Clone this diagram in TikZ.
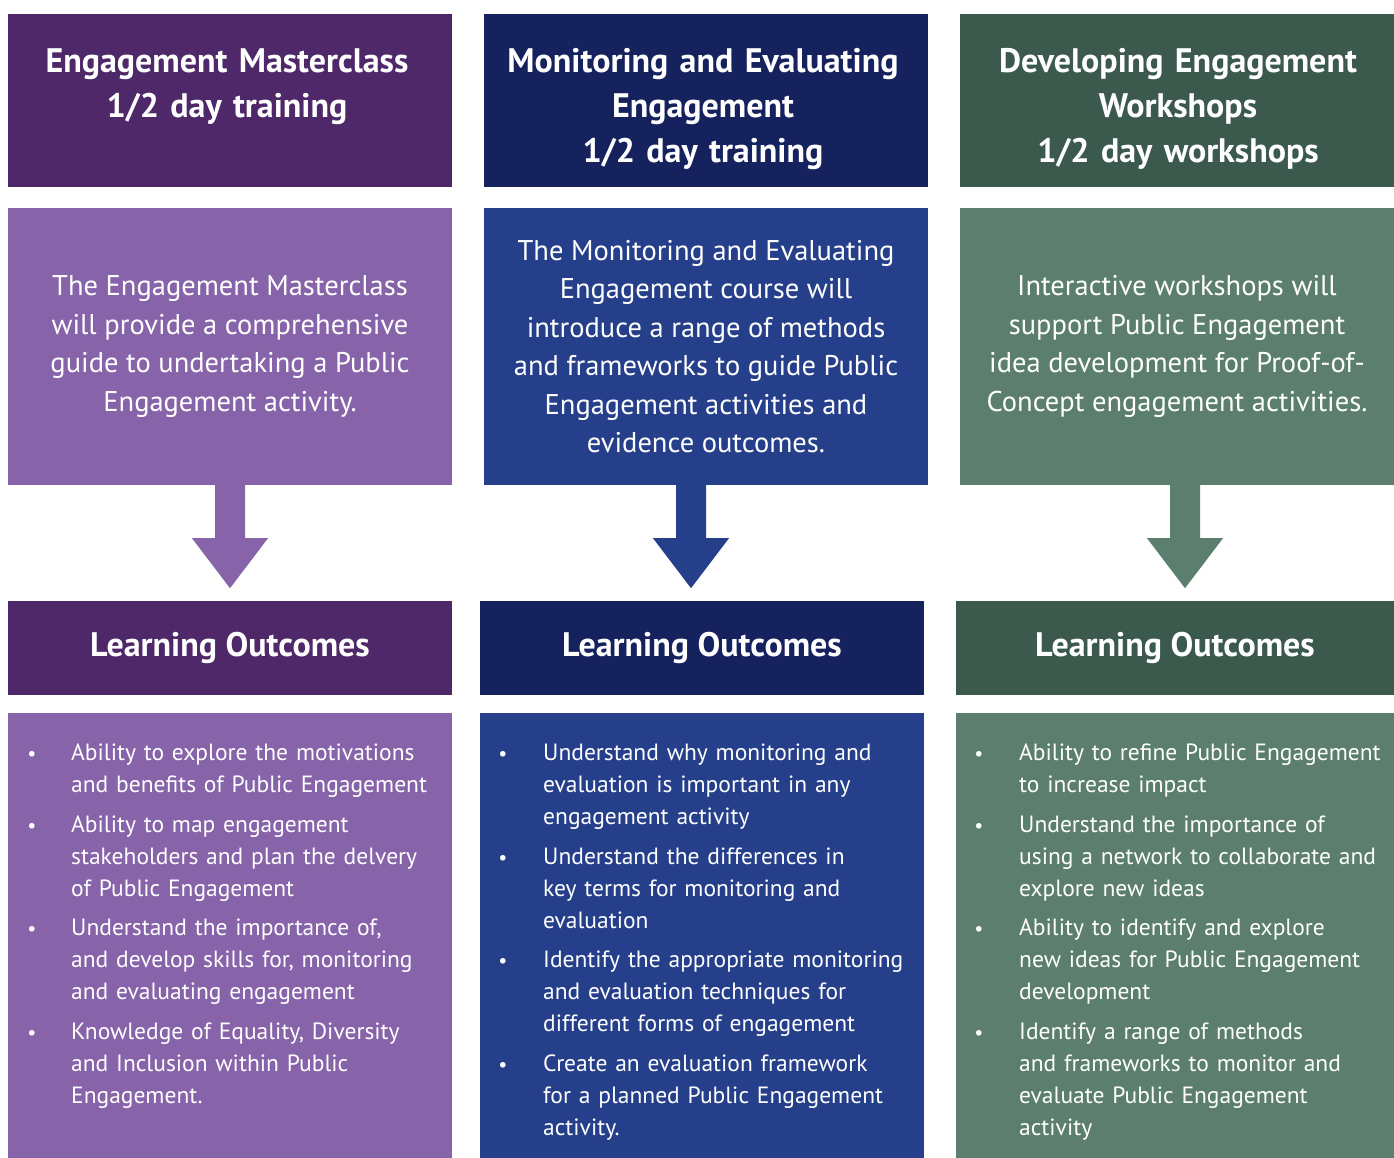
\documentclass[tikz,border=0pt]{standalone}
\usepackage{fontspec}
\setmainfont{PT Sans}

\definecolor{mcdark}{HTML}{4F2869}
\definecolor{mclight}{HTML}{8763A9}
\definecolor{medark}{HTML}{15225E}
\definecolor{melight}{HTML}{253F8A}
\definecolor{wsdark}{HTML}{3C594D}
\definecolor{wslight}{HTML}{5B7E6E}

\begin{document}
\begin{tikzpicture}[x=1pt,y=-1pt,
    box/.style={rectangle,inner sep=0pt,text=white,minimum width=444pt},
    title/.style={text=white,inner sep=0pt,text width=440pt,align=center,anchor=base,
                  font=\fontsize{34}{45}\selectfont\bfseries},
    desc/.style={box,minimum height=277pt,align=center,font=\fontsize{28.5}{38.5}\selectfont},
    outcome/.style={box,minimum height=94pt,font=\fontsize{34}{36}\selectfont\bfseries},
    listbox/.style={box,minimum height=445pt},
    dot/.style={text=white,inner sep=0pt,anchor=base,font=\fontsize{20}{32}\selectfont},
    item/.style={text=white,inner sep=0pt,anchor=base west,text width=400pt,align=left,
                 font=\fontsize{23.5}{32}\selectfont}]
    \useasboundingbox (0,0) rectangle (1394,1158);

    % header boxes
    \node[box,fill=mcdark,minimum height=173pt] (h1) at (230,100.5) {};
    \node[box,fill=medark,minimum height=173pt] (h2) at (706,100.5) {};
    \node[box,fill=wsdark,minimum height=173pt,minimum width=434pt] (h3) at (1177,100.5) {};
    \node[title] (t1) at (227,73) {Engagement Masterclass\\1/2 day training};
    \node[title] (t2) at (703,73) {Monitoring and Evaluating\\Engagement\\1/2 day training};
    \node[title] (t3) at (1178,73) {Developing Engagement\\Workshops\\1/2 day workshops};

    % course descriptions
    \node[desc,fill=mclight] (d1) at (230,346.5) {The Engagement Masterclass\\will provide a comprehensive\\guide to undertaking a Public\\Engagement activity.};
    \node[desc,fill=melight] (d2) at (706,346.5) {The Monitoring and Evaluating\\Engagement course will\\introduce a range of methods\\and frameworks to guide Public\\Engagement activities and\\evidence outcomes.};
    \node[desc,fill=wslight,minimum width=434pt] (d3) at (1177,346.5) {Interactive workshops will\\support Public Engagement\\idea development for Proof-of-\\Concept engagement activities.};

    % learning outcomes headers
    \node[outcome,fill=mcdark] (l1) at (230,648) {Learning Outcomes};
    \node[outcome,fill=medark] (l2) at (702,648) {Learning Outcomes};
    \node[outcome,fill=wsdark,minimum width=438pt] (l3) at (1175,648) {Learning Outcomes};

    % block arrows
    \fill[mclight] ([xshift=-15pt]d1.south) -- ++(0,53) -- ++(-23,0) -- ++(38,50) -- ++(38,-50) -- ++(-23,0) -- ++(0,-53) -- cycle;
    \fill[melight] ([xshift=-30pt]d2.south) -- ++(0,53) -- ++(-23,0) -- ++(38,50) -- ++(38,-50) -- ++(-23,0) -- ++(0,-53) -- cycle;
    \fill[wslight] ([xshift=-7pt]d3.south) -- ++(0,53) -- ++(-23,0) -- ++(38,50) -- ++(38,-50) -- ++(-23,0) -- ++(0,-53) -- cycle;

    % outcome lists
    \node[listbox,fill=mclight] (o1) at (230,935.5) {};
    \node[listbox,fill=melight] (o2) at (702,935.5) {};
    \node[listbox,fill=wslight,minimum width=438pt] (o3) at (1175,935.5) {};

    \node[dot] (b11) at (32,760) {•};
    \node[item] (i11) at (71,760) {Ability to explore the motivations\\and benefits of Public Engagement};
    \node[dot] (b12) at (32,832) {•};
    \node[item] (i12) at (71,832) {Ability to map engagement\\stakeholders and plan the delvery\\of Public Engagement};
    \node[dot] (b13) at (32,935) {•};
    \node[item] (i13) at (71,935) {Understand the importance of,\\and develop skills for, monitoring\\and evaluating engagement};
    \node[dot] (b14) at (32,1039) {•};
    \node[item] (i14) at (71,1039) {Knowledge of Equality, Diversity\\and Inclusion within Public\\Engagement.};

    \node[dot] (b21) at (503,760) {•};
    \node[item] (i21) at (543,760) {Understand why monitoring and\\evaluation is important in any\\engagement activity};
    \node[dot] (b22) at (503,864) {•};
    \node[item] (i22) at (543,864) {Understand the differences in\\key terms for monitoring and\\evaluation};
    \node[dot] (b23) at (503,967) {•};
    \node[item] (i23) at (543,967) {Identify the appropriate monitoring\\and evaluation techniques for\\different forms of engagement};
    \node[dot] (b24) at (503,1071) {•};
    \node[item] (i24) at (543,1071) {Create an evaluation framework\\for a planned Public Engagement\\activity.};

    \node[dot] (b31) at (979,760) {•};
    \node[item] (i31) at (1019,760) {Ability to refine Public Engagement\\to increase impact};
    \node[dot] (b32) at (979,832) {•};
    \node[item] (i32) at (1019,832) {Understand the importance of\\using a network to collaborate and\\explore new ideas};
    \node[dot] (b33) at (979,935) {•};
    \node[item] (i33) at (1019,935) {Ability to identify and explore\\new ideas for Public Engagement\\development};
    \node[dot] (b34) at (979,1039) {•};
    \node[item] (i34) at (1019,1039) {Identify a range of methods\\and frameworks to monitor and\\evaluate Public Engagement\\activity};
\end{tikzpicture}
\end{document}
